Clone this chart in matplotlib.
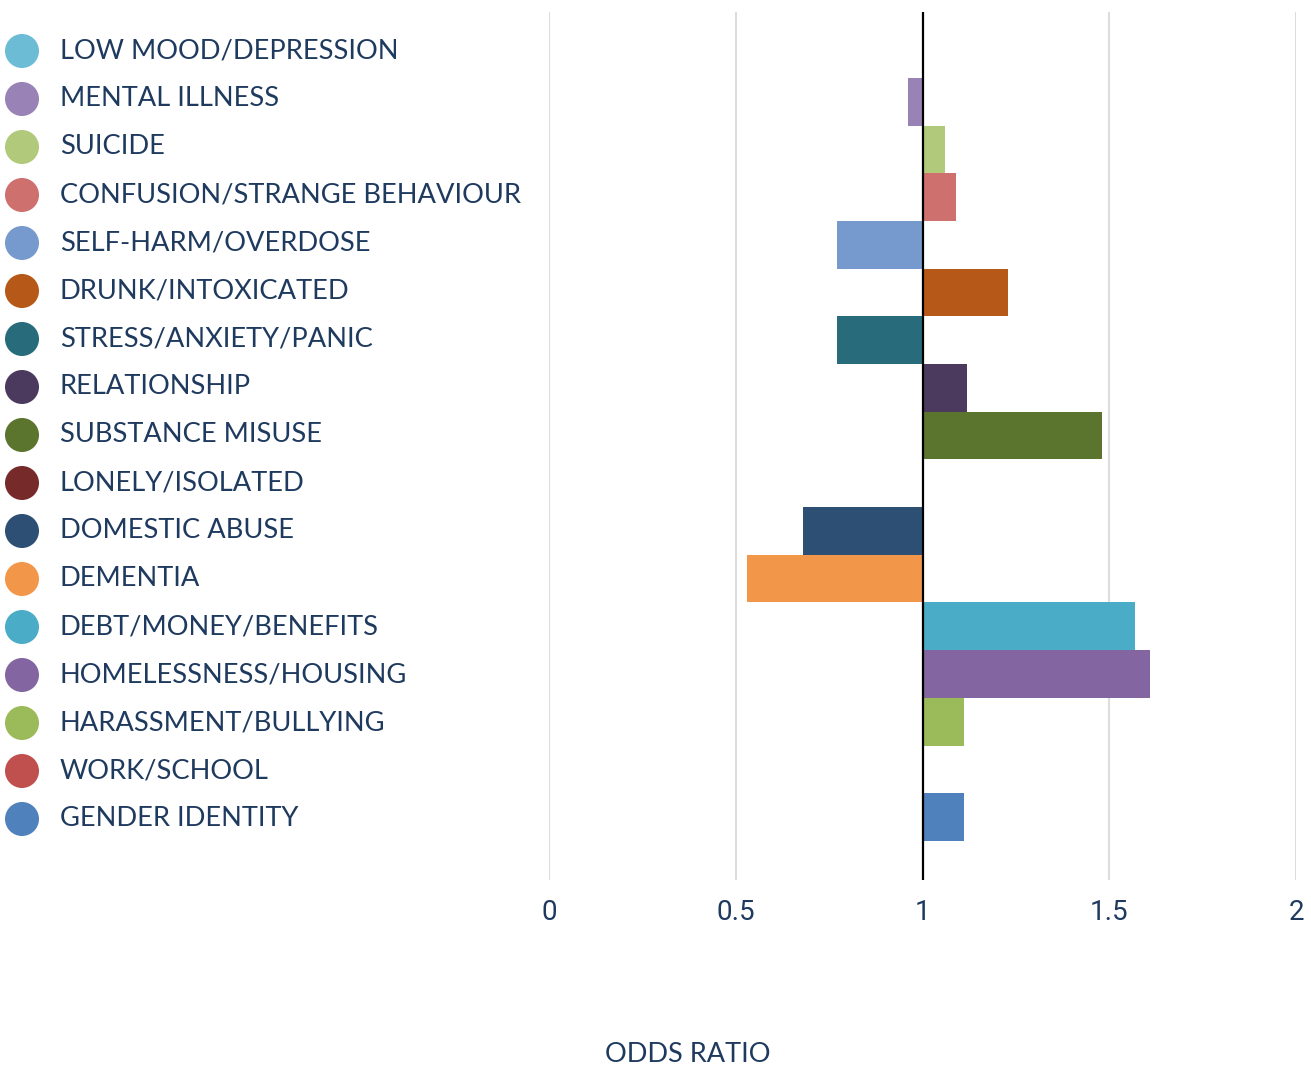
import numpy as np
import matplotlib.pyplot as plt

# categories, top to bottom (legend order)
categories = [
    'LOW MOOD/DEPRESSION', 'MENTAL ILLNESS', 'SUICIDE',
    'CONFUSION/STRANGE BEHAVIOUR', 'SELF-HARM/OVERDOSE', 'DRUNK/INTOXICATED',
    'STRESS/ANXIETY/PANIC', 'RELATIONSHIP', 'SUBSTANCE MISUSE',
    'LONELY/ISOLATED', 'DOMESTIC ABUSE', 'DEMENTIA', 'DEBT/MONEY/BENEFITS',
    'HOMELESSNESS/HOUSING', 'HARASSMENT/BULLYING', 'WORK/SCHOOL',
    'GENDER IDENTITY',
]
# odds ratios (nan = no bar shown)
odds_ratio = [np.nan, 0.96, 1.06, 1.09, 0.77, 1.23, 0.77, 1.12, 1.48,
              np.nan, 0.68, 0.53, 1.57, 1.61, 1.11, np.nan, 1.11]
colors = ['#6cbcd6', '#9982b5', '#b0c97a', '#cd706e', '#769acd', '#b65817',
          '#286b7b', '#4b3a5e', '#5b742e', '#772a2a', '#2d4f74', '#f2974a',
          '#4aacc6', '#8365a1', '#9bba59', '#c0504d', '#4f81bd']
x_ticks = [0, 0.5, 1, 1.5, 2]

navy = '#1f3a5f'
W, H = 1311, 1065
fig = plt.figure(figsize=(W / 100, H / 100), dpi=100)

# main plot area
ax = fig.add_axes([549 / W, 1 - 880 / H, (1296 - 549) / W, (880 - 12) / H])
ypos = np.arange(len(categories))
vals = np.array(odds_ratio)
ax.barh(ypos, vals - 1, left=1, height=1.0, color=colors, zorder=3)
ax.set_xlim(0, 2)
ax.set_ylim(16.5 + 0.82, -0.5 - 0.38)
ax.set_xticks(x_ticks)
ax.set_xticklabels([f'{t:g}' for t in x_ticks], fontfamily='Roboto',
                   fontsize=20, color=navy)
ax.tick_params(axis='x', length=0, pad=14)
ax.set_yticks([])
for t in x_ticks:
    if t != 1:
        ax.axvline(t, color='#dddddd', lw=1.5, zorder=1)
ax.axvline(1, color='black', lw=1.6, zorder=4)
for s in ax.spines.values():
    s.set_visible(False)

# legend as its own panel, one row per category
lax = fig.add_axes([0, 1 - 843 / H, 549 / W, 816 / H])
lax.set_xlim(0, 549)
lax.set_ylim(16.5, -0.5)
lax.axis('off')
lax.scatter(np.full(len(categories), 22), ypos, s=600, c=colors,
            edgecolors='none', clip_on=False)
for i, name in enumerate(categories):
    lax.text(60, i, name, fontfamily='Lato', fontsize=19.6, color=navy,
             va='center', ha='left')

fig.text(688 / W, 1 - 1054 / H, 'ODDS RATIO', fontfamily='Lato', fontsize=19.5,
         color=navy, ha='center', va='center')

fig.savefig('out.png', dpi=100)
plt.close(fig)
